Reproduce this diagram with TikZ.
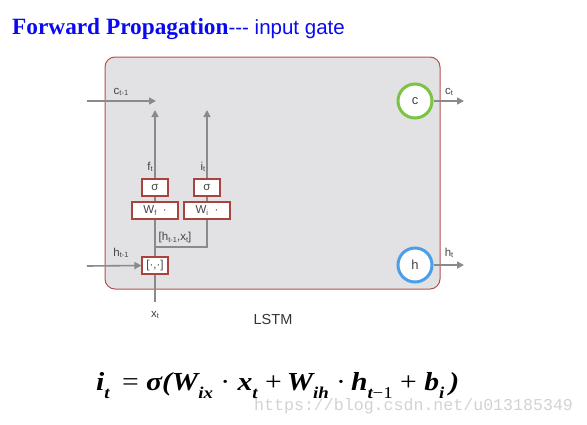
\documentclass[tikz,border=0pt]{standalone}
\usepackage{fontspec}
\setmainfont{Liberation Serif}
\setsansfont{Liberation Sans}
\setmonofont{Liberation Mono}
\usetikzlibrary{arrows.meta}
\definecolor{titleblue}{HTML}{0A0AF0}
\definecolor{boxfill}{HTML}{E2E2E4}
\definecolor{boxedge}{HTML}{B5524F}
\definecolor{arrowgray}{HTML}{8A8A8A}
\definecolor{gatered}{HTML}{A8433D}
\definecolor{cgreen}{HTML}{7CC243}
\definecolor{hblue}{HTML}{4A9FE8}
\definecolor{lblgray}{HTML}{444444}
\definecolor{wmgray}{HTML}{D2D2D2}
\newcommand{\bi}[1]{{\bfseries\itshape #1}}
\newcommand{\sbs}[1]{\raisebox{-0.32em}{\fontsize{16.5}{16.5}\selectfont #1}}
\newcommand{\lsub}[2]{#1\raisebox{-0.25ex}{\fontsize{7.5}{7.5}\selectfont #2}}
\begin{document}
\begin{tikzpicture}[x=1pt,y=-1pt,
  flow/.style={draw=arrowgray, line width=1.6pt},
  arr/.style={flow, -{Triangle[length=7pt,width=7pt]}},
  gate/.style={draw=gatered, line width=1.1pt, fill=white, inner sep=0pt, minimum height=17pt,
     font=\sffamily\fontsize{11.5}{11.5}\selectfont, text=lblgray},
  lbl/.style={font=\sffamily\fontsize{11.5}{11.5}\selectfont, text=lblgray, inner sep=0pt},
  state/.style={circle, fill=white, line width=3pt, minimum size=34pt, inner sep=0pt,
     font=\sffamily\fontsize{13}{13}\selectfont, text=lblgray}]
\useasboundingbox (0,0) rectangle (587,424);
% title
\node[anchor=base west, inner sep=0pt, text=titleblue] (title) at (12,34)
  {{\fontsize{23.3}{23.3}\selectfont\bfseries Forward Propagation}{\sffamily\fontsize{20.5}{20.5}\selectfont -{}-{}- input gate}};
% LSTM box
\draw[boxedge, fill=boxfill, rounded corners=10pt, line width=1pt] (105,57) rectangle (440,289);
% gates
\node[gate, minimum width=26pt] (sigf) at (155,187.5) {σ};
\node[gate, minimum width=26pt] (sigi) at (207,187.5) {σ};
\node[gate, minimum width=46pt] (wf) at (155,210.5) {\lsub{W}{f}\ \ ·};
\node[gate, minimum width=46pt] (wi) at (207,210.5) {\lsub{W}{i}\ \ ·};
\node[gate, minimum width=26pt] (cat) at (155,265.5) {[·,·]};
% states
\node[state, draw=cgreen] (cst) at (415,101) {c};
\node[state, draw=hblue] (hst) at (415,265) {h};
% coordinates
\coordinate (cin) at (87,101);
\coordinate (cend) at (156,101);
\coordinate (ftop) at (155,110);
\coordinate (itop) at (207,110);
\coordinate (jl) at (155,247);
\coordinate (jr) at (207,247);
\coordinate (hin) at (87,266);
\coordinate (xin) at (155,302);
\coordinate (cout) at (464,101);
\coordinate (hout) at (464,265);
% connectors
\draw[arr] (cin) -- (cend);
\draw[arr] (sigf.north) -- (ftop);
\draw[arr] (sigi.north) -- (itop);
\draw[flow] (sigf.south) -- (wf.north);
\draw[flow] (sigi.south) -- (wi.north);
\draw[flow] (wf.south) -- (cat.north);
\draw[flow] (jl) -- (jr) -- (wi.south);
\draw[arr] (hin) -- (cat.west);
\draw[flow] (cat.south) -- (xin);
\draw[arr] (cst.east) -- (cout);
\draw[arr] (hst.east) -- (hout);
% labels
\node[lbl] (lc) at (121,92) {\lsub{c}{t-1}};
\node[lbl] (lf) at (150,167) {\lsub{f}{t}};
\node[lbl] (li) at (203,167) {\lsub{i}{t}};
\node[lbl] (lhx) at (175,238) {[\lsub{h}{t-1},\lsub{x}{t}]};
\node[lbl] (lh) at (121,253) {\lsub{h}{t-1}};
\node[lbl] (lx) at (155,315) {\lsub{x}{t}};
\node[lbl] (lct) at (449,92) {\lsub{c}{t}};
\node[lbl] (lht) at (449,253) {\lsub{h}{t}};
\node[lbl, font=\sffamily\fontsize{14.5}{14.5}\selectfont, text=black!80] (lstm) at (273,320) {LSTM};
% formula
\node[anchor=base west, inner sep=0pt, font=\fontsize{26}{26}\selectfont] (eq) at (96,390)
  {\scalebox{1.14}[1]{\bi{i}\sbs{\bi{t}}\ \,=\ \bi{σ(W}\sbs{\bi{ix}}\ ·\ \bi{x}\sbs{\bi{t}}\ +\,\bi{W}\sbs{\bi{ih}}\ ·\,\bi{h}\sbs{\bi{t}−1}\ +\ \bi{b}\sbs{\bi{i}}\,\bi{)}}};
% watermark
\node[anchor=base west, inner sep=0pt, font=\ttfamily\fontsize{16.6}{16.6}\selectfont, text=wmgray] (wm) at (254,410) {https://blog.csdn.net/u013185349};
\end{tikzpicture}
\end{document}
